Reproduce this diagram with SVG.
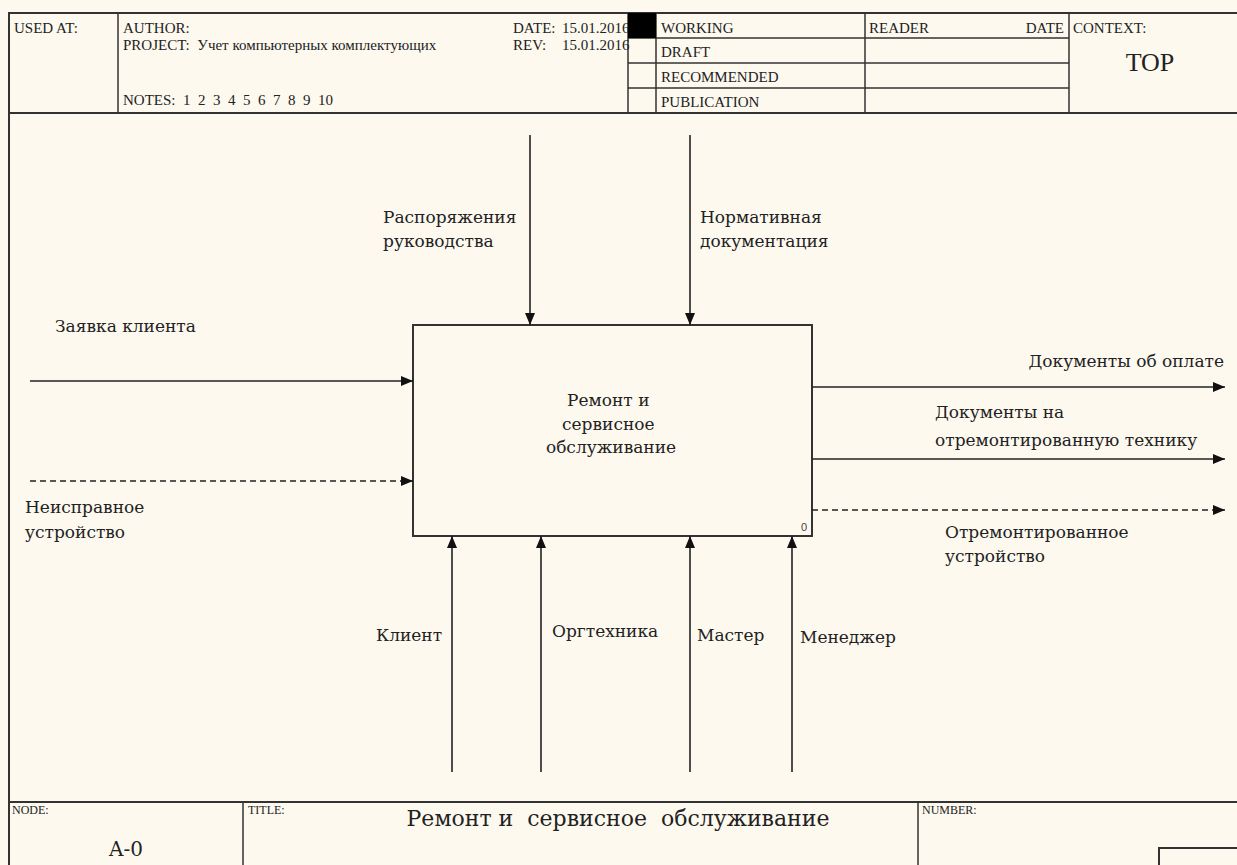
<svg xmlns="http://www.w3.org/2000/svg" width="1237" height="865" viewBox="0 0 1237 865">
  <defs>
    <marker id="arrow" viewBox="0 0 12 10" refX="12" refY="5" markerWidth="12" markerHeight="10" markerUnits="userSpaceOnUse" orient="auto">
      <path d="M0,0 L12,5 L0,10 Z" fill="#111"/>
    </marker>
    <style>
      .frame { fill: none; stroke: #333; stroke-width: 2; }
      .thin { fill: none; stroke: #333; stroke-width: 1.5; }
      .hdr { font-family: "Liberation Serif", "DejaVu Serif", serif; font-size: 15px; fill: #222; }
      .ftr { font-family: "Liberation Serif", "DejaVu Serif", serif; font-size: 12px; fill: #222; }
      .lbl { font-family: "DejaVu Serif", "Liberation Serif", serif; font-size: 17px; fill: #222; }
      .arrow { fill: none; stroke: #222; stroke-width: 1.6; marker-end: url(#arrow); }
      .dash { stroke-dasharray: 6 4; }
    </style>
  </defs>

  <rect x="0" y="0" width="1237" height="865" fill="#fdf9ef"/>

  <!-- header block -->
  <g id="header">
    <path class="frame" d="M9,865 V13 H1240 M9,113 H1240"/>
    <path class="thin" d="M118,13 V113 M628,13 V113 M656,13 V113 M865,13 V113 M1069,13 V113 M628,38 H1069 M628,63 H1069 M628,88 H1069"/>
    <text class="hdr" x="14" y="33">USED AT:</text>
    <text class="hdr" x="123" y="33">AUTHOR:</text>
    <text class="hdr" x="123" y="50" xml:space="preserve">PROJECT:  Учет компьютерных комплектующих</text>
    <text class="hdr" x="123" y="105" xml:space="preserve">NOTES:  1  2  3  4  5  6  7  8  9  10</text>
    <text class="hdr" x="513" y="33">DATE:</text>
    <text class="hdr" x="562" y="33">15.01.2016</text>
    <text class="hdr" x="513" y="50">REV:</text>
    <text class="hdr" x="562" y="50">15.01.2016</text>
    <rect x="628" y="13" width="28" height="25" fill="#000"/>
    <text class="hdr" x="661" y="33">WORKING</text>
    <text class="hdr" x="661" y="57">DRAFT</text>
    <text class="hdr" x="661" y="82">RECOMMENDED</text>
    <text class="hdr" x="661" y="107">PUBLICATION</text>
    <text class="hdr" x="869" y="33">READER</text>
    <text class="hdr" x="1064" y="33" text-anchor="end">DATE</text>
    <text class="hdr" x="1073" y="33">CONTEXT:</text>
    <text x="1150" y="71" text-anchor="middle" font-family="'Liberation Serif', serif" font-size="26" fill="#222">TOP</text>
  </g>

  <!-- footer block -->
  <g id="footer">
    <path class="frame" d="M9,802 H1240"/>
    <path class="thin" d="M243,802 V865 M918,802 V865"/>
    <path class="frame" d="M1159,869 V848 H1240"/>
    <text class="ftr" x="12" y="814">NODE:</text>
    <text x="126" y="856" text-anchor="middle" font-family="'DejaVu Serif', serif" font-size="20" fill="#222">A-0</text>
    <text class="ftr" x="248" y="814">TITLE:</text>
    <text x="618" y="826" text-anchor="middle" font-family="'DejaVu Serif', serif" font-size="22" fill="#222" xml:space="preserve">Ремонт и  сервисное  обслуживание</text>
    <text class="ftr" x="922" y="814">NUMBER:</text>
  </g>

  <!-- activity box -->
  <g id="node-A0">
    <rect x="413" y="325" width="399" height="211" fill="#fdf9ef" stroke="#333" stroke-width="2"/>
    <text class="lbl" text-anchor="middle">
      <tspan x="611" y="406">Ремонт и</tspan>
      <tspan x="611" y="430">сервисное</tspan>
      <tspan x="611" y="453">обслуживание</tspan>
    </text>
    <text x="804" y="531" text-anchor="middle" font-family="'Liberation Sans', sans-serif" font-size="11" fill="#444">0</text>
  </g>

  <!-- arrows -->
  <g id="connectors">
    <!-- controls -->
    <line class="arrow" x1="530" y1="135" x2="530" y2="325"/>
    <line class="arrow" x1="690" y1="135" x2="690" y2="325"/>
    <!-- inputs -->
    <line class="arrow" x1="30" y1="381" x2="413" y2="381"/>
    <line class="arrow dash" x1="30" y1="481" x2="413" y2="481"/>
    <!-- outputs -->
    <line class="arrow" x1="812" y1="387" x2="1225" y2="387"/>
    <line class="arrow" x1="812" y1="459" x2="1225" y2="459"/>
    <line class="arrow dash" x1="812" y1="510" x2="1225" y2="510"/>
    <!-- mechanisms -->
    <line class="arrow" x1="452" y1="772" x2="452" y2="536"/>
    <line class="arrow" x1="541" y1="772" x2="541" y2="536"/>
    <line class="arrow" x1="690" y1="772" x2="690" y2="536"/>
    <line class="arrow" x1="792" y1="772" x2="792" y2="536"/>
  </g>

  <!-- arrow labels -->
  <g id="labels">
    <text class="lbl"><tspan x="383" y="223">Распоряжения</tspan><tspan x="383" y="247">руководства</tspan></text>
    <text class="lbl"><tspan x="700" y="223">Нормативная</tspan><tspan x="700" y="247">документация</tspan></text>
    <text class="lbl" x="55" y="332">Заявка клиента</text>
    <text class="lbl"><tspan x="25" y="513">Неисправное</tspan><tspan x="25" y="538">устройство</tspan></text>
    <text class="lbl" x="1224" y="367" text-anchor="end">Документы об оплате</text>
    <text class="lbl"><tspan x="935" y="418">Документы на</tspan><tspan x="935" y="446">отремонтированную технику</tspan></text>
    <text class="lbl"><tspan x="945" y="538">Отремонтированное</tspan><tspan x="945" y="562">устройство</tspan></text>
    <text class="lbl" x="376" y="641">Клиент</text>
    <text class="lbl" x="552" y="637">Оргтехника</text>
    <text class="lbl" x="697" y="641">Мастер</text>
    <text class="lbl" x="800" y="643">Менеджер</text>
  </g>
</svg>
